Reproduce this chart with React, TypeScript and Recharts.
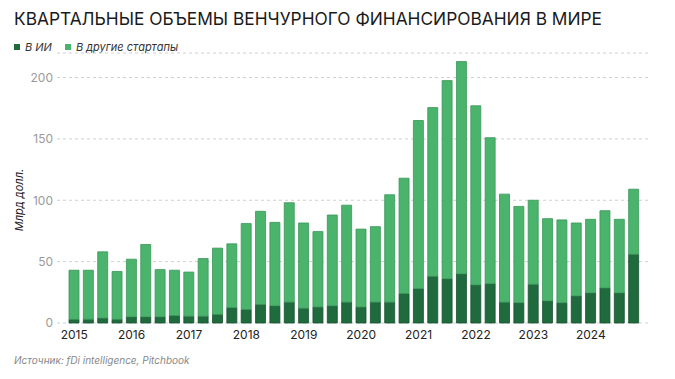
import React from "react";
import { BarChart, Bar, XAxis, YAxis, CartesianGrid } from "recharts";

const quarters: string[] = [];
const years = ["2015", "2016", "2017", "2018", "2019", "2020", "2021", "2022", "2023", "2024"];
for (const y of years) for (const q of ["Q1", "Q2", "Q3", "Q4"]) quarters.push(`${y} ${q}`);

const aiValues = [
  3, 3, 4, 3, 5, 5, 5, 6, 5.5, 5.5, 7, 12.5,
  11, 15, 14, 17, 12, 13, 14, 17,
  13, 17, 17, 24, 28, 38, 36, 40,
  31, 32, 17, 16.5, 31.5, 18, 16.5, 22,
  24.5, 28.5, 24.5, 56,
];
const otherValues = [
  40, 40, 54, 39, 47, 59, 38.5, 37, 36, 47, 54, 52,
  70, 76, 68, 81, 69.5, 61.5, 74, 79,
  63.5, 61.5, 87.5, 94, 137, 137.5, 161.5, 173,
  146, 119, 88, 78.5, 68.5, 67, 67.5, 59.5,
  60, 63, 60, 53,
];
const yTicks = [0, 50, 100, 150, 200];

const data = quarters.map((q, i) => ({ q, ai: aiValues[i], other: otherValues[i] }));

const DARK = "#1f6b3e";
const LIGHT = "#4bb46c";
const FONT = "Inter, 'Noto Sans', sans-serif";

export default function App() {
  return (
    <div style={{ position: "absolute", left: 0, top: 0, width: 675, height: 379, background: "#fff", fontFamily: FONT, overflow: "hidden" }}>
      <svg width={675} height={34} style={{ position: "absolute", left: 0, top: 0 }}>
        <text x={14} y={25} fontSize={17.5} fill="#1a1a1a" fontFamily={FONT} textLength={588} lengthAdjust="spacingAndGlyphs">
          КВАРТАЛЬНЫЕ ОБЪЕМЫ ВЕНЧУРНОГО ФИНАНСИРОВАНИЯ В МИРЕ
        </text>
      </svg>
      <div style={{ position: "absolute", left: 14, top: 40, fontSize: 11, fontStyle: "italic", color: "#333", display: "flex", alignItems: "center", whiteSpace: "nowrap" }}>
        <span style={{ display: "inline-block", width: 6, height: 6, background: DARK, marginRight: 5 }} />
        <span style={{ marginRight: 13 }}>В ИИ</span>
        <span style={{ display: "inline-block", width: 6, height: 6, background: LIGHT, marginRight: 5 }} />
        <span>В другие стартапы</span>
      </div>
      <div style={{ position: "absolute", left: 11, top: 200, transform: "translate(-50%, -50%) rotate(-90deg)", transformOrigin: "center", marginLeft: 8, fontSize: 11, fontStyle: "italic", color: "#222", whiteSpace: "nowrap" }}>
        Млрд долл.
      </div>
      <div style={{ position: "absolute", left: 14, top: 354, fontSize: 10, fontStyle: "italic", color: "#888", whiteSpace: "nowrap" }}>
        Источник: fDi intelligence, Pitchbook
      </div>
      <div style={{ position: "absolute", left: 0, top: 0 }}>
        <BarChart width={675} height={379} data={data} margin={{ top: 53, right: 25, bottom: 26, left: 0 }} barSize={10}>
          <CartesianGrid vertical={false} stroke="#d0d0d0" strokeDasharray="3 3" />
          <XAxis
            dataKey="q"
            interval={3}
            tickFormatter={(v: string) => v.slice(0, 4)}
            axisLine={false}
            tickLine={false}
            tickSize={0}
            tickMargin={7}
            height={30}
            padding={{ left: 10, right: 9 }}
            tick={{ fontSize: 12, fill: "#222", fontFamily: FONT }}
          />
          <YAxis
            domain={[0, 220]}
            ticks={yTicks}
            axisLine={false}
            tickLine={false}
            tickSize={0}
            tickMargin={4}
            width={57}
            tick={{ fontSize: 12, fill: "#9a9a9a", fontFamily: FONT }}
          />
          <Bar dataKey="ai" stackId="a" fill={DARK} stroke="#17502e" strokeWidth={0.8} isAnimationActive={false} />
          <Bar dataKey="other" stackId="a" fill={LIGHT} stroke="#3a9558" strokeWidth={0.8} isAnimationActive={false} />
        </BarChart>
      </div>
    </div>
  );
}
